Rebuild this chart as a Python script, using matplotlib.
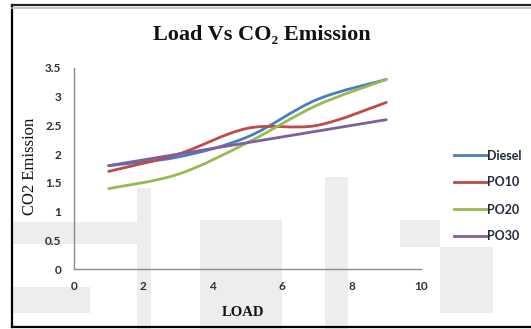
import numpy as np
import matplotlib.pyplot as plt
from matplotlib.path import Path
from matplotlib.patches import PathPatch, Rectangle
from matplotlib.lines import Line2D

# load steps and CO2 emission for each fuel blend
load = [1, 3, 5, 7, 9]
diesel = [1.8, 1.95, 2.3, 2.95, 3.3]
po10 = [1.7, 2.0, 2.45, 2.5, 2.9]
po20 = [1.4, 1.65, 2.2, 2.85, 3.3]
po30 = [1.8, 2.0, 2.2, 2.4, 2.6]

names = ['Diesel', 'PO10', 'PO20', 'PO30']
colors = ['#4a7ebb', '#be4b48', '#98b954', '#7d60a0']

W, H = 531, 329


def smooth_path(x, y):
    # excel-style smoothed line: cubic bezier through every point
    pts = np.column_stack([x, y]).astype(float)
    ext = np.vstack([pts[0], pts, pts[-1]])
    verts = [pts[0]]
    codes = [Path.MOVETO]
    for i in range(len(pts) - 1):
        p0, p1, p2, p3 = ext[i], ext[i + 1], ext[i + 2], ext[i + 3]
        verts += [p1 + (p2 - p0) / 6, p2 - (p3 - p1) / 6, p2]
        codes += [Path.CURVE4] * 3
    return Path(verts, codes)


def px_rect(x0, y0, x1, y1, **kw):
    return Rectangle((x0 / W, 1 - y1 / H), (x1 - x0) / W, (y1 - y0) / H,
                     transform=fig.transFigure, **kw)


fig = plt.figure(figsize=(W / 100, H / 100), dpi=100)

# faint watermark blocks behind the chart
for r in [(12, 222, 140, 244), (137, 188, 151, 329), (200, 220, 282, 329),
          (325, 177, 348, 329), (400, 220, 440, 247), (440, 247, 493, 313),
          (13, 287, 90, 313)]:
    fig.patches.append(px_rect(*r, color='#ededed', lw=0, zorder=0))

# page frame
fig.add_artist(Line2D([12 / W, 12 / W], [1 - 5 / H, 1 - 327 / H], color='black',
                      lw=1.6, transform=fig.transFigure))
fig.add_artist(Line2D([12 / W, 1], [1 - 5 / H, 1 - 5 / H], color='#222222',
                      lw=1.6, transform=fig.transFigure))
fig.add_artist(Line2D([12 / W, 1], [1 - 8 / H, 1 - 8 / H], color='#bbbbbb',
                      lw=1.2, transform=fig.transFigure))
fig.add_artist(Line2D([12 / W, 1], [1 - 327 / H, 1 - 327 / H], color='black',
                      lw=1.6, transform=fig.transFigure))

ax = fig.add_axes([74 / W, 1 - 269 / H, (421 - 74) / W, (269 - 68) / H])
ax.set_facecolor('none')
ax.set_zorder(2)

handles = []
for name, vals, c in zip(names, [diesel, po10, po20, po30], colors):
    ax.add_patch(PathPatch(smooth_path(load, vals), fill=False, edgecolor=c,
                           lw=2.0, capstyle='round'))
    handles.append(Line2D([], [], color=c, lw=2.0, label=name))

ax.set_xlim(0, 10)
ax.set_ylim(0, 3.5)
ax.set_xticks(range(0, 11, 2))
ax.set_yticks(np.arange(0, 3.6, 0.5))
ax.set_yticklabels(['0', '0.5', '1', '1.5', '2', '2.5', '3', '3.5'])
for s in ['top', 'right']:
    ax.spines[s].set_visible(False)
for s in ['left', 'bottom']:
    ax.spines[s].set_color('#8c8c8c')
    ax.spines[s].set_linewidth(1.0)
ax.tick_params(length=0, labelsize=8.5, labelcolor='#2b2f3a')
ax.tick_params(axis='y', pad=9)
ax.tick_params(axis='x', pad=9)
for lab in ax.get_xticklabels() + ax.get_yticklabels():
    lab.set_fontfamily('Lato')
    lab.set_fontweight('bold')

fig.text(262 / W, 1 - 35 / H, 'Load Vs CO\u2082 Emission', ha='center', va='center',
         fontsize=16, fontweight='bold', family='Liberation Serif', color='#111111')
fig.text(30 / W, 1 - 166 / H, 'CO2 Emission', rotation=90, ha='center', va='center',
         fontsize=12, family='Liberation Serif', color='#111111')
fig.text(243 / W, 1 - 312 / H, 'LOAD', ha='center', va='center',
         fontsize=10.5, fontweight='bold', family='Liberation Serif', color='#111111')

fig.legend(handles=handles, loc='center left', bbox_to_anchor=(443 / W, 1 - 196 / H),
           frameon=False, handlelength=2.6, handletextpad=0.05, labelspacing=1.2,
           prop={'family': 'Lato', 'weight': 'bold', 'size': 9}, labelcolor='#1f2a3a')

fig.savefig('out.png', dpi=100)
